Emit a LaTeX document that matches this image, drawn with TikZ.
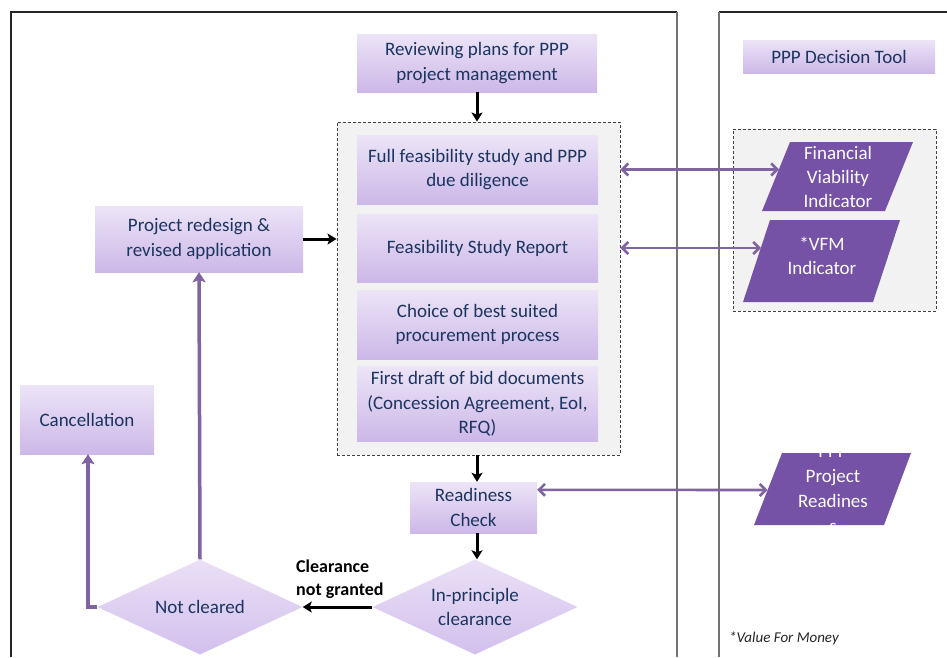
\documentclass[tikz,border=0pt]{standalone}
\usepackage{fontspec}
\setmainfont{Carlito}
\usetikzlibrary{arrows.meta,shapes.geometric}

\definecolor{navy}{RGB}{28,52,96}
\definecolor{lavtop}{RGB}{236,228,247}
\definecolor{lavbot}{RGB}{204,184,232}
\definecolor{diatop}{RGB}{234,224,246}
\definecolor{diabot}{RGB}{210,192,237}
\definecolor{plum}{RGB}{117,82,166}
\definecolor{linkpurple}{RGB}{128,100,162}
\definecolor{groupfill}{RGB}{242,242,242}

\tikzset{
  boxtext/.style={font=\fontsize{19}{24.5}\selectfont, text=navy, align=center},
  stepbox/.style={boxtext, rectangle, inner sep=0pt,
    top color=lavtop, bottom color=lavbot, draw=none},
  decision/.style={diamond, inner sep=0pt,
    minimum width=205pt, minimum height=95pt,
    top color=diatop, bottom color=diabot, draw=none},
  groupbox/.style={rectangle, fill=groupfill, draw=black!75,
    line width=0.9pt, dash pattern=on 3pt off 2pt, inner sep=0pt},
  toolshape/.style={fill=plum},
  tooltext/.style={font=\fontsize{19}{24}\selectfont, text=white, align=center, inner sep=0pt},
  flow/.style={draw=black, line width=3pt, -{Stealth[length=9pt,width=11pt,inset=2pt]}},
  backflow/.style={draw=linkpurple, line width=3.5pt, -{Stealth[length=10pt,width=13pt,inset=2pt]}},
  toollink/.style={draw=linkpurple, line width=2.6pt,
    {Straight Barb[length=6pt,width=12pt]}-{Straight Barb[length=6pt,width=12pt]}},
  framedark/.style={draw=black!85, line width=2.5pt},
  framelight/.style={draw=black!55, line width=2.5pt},
}

\begin{document}
\begin{tikzpicture}[x=1pt,y=-1pt]
\useasboundingbox (0,0) rectangle (947,657);
\fill[white] (0,0) rectangle (947,657);

% panel frames
\draw[framedark] (11,657) -- (11,12) -- (677,12);
\draw[framelight] (677,12) -- (677,657);
\draw[framedark] (719,12) -- (947,12);
\draw[framelight] (719,12) -- (719,657);

% process column
\node[stepbox, minimum width=240pt, minimum height=58pt] (rev) at (477,63)
  {Reviewing plans for PPP\\project management};

\node[groupbox, minimum width=283pt, minimum height=333pt] (grp) at (478.5,288.5) {};

\node[stepbox, minimum width=241pt, minimum height=69pt] (fs) at (477.5,169.5)
  {Full feasibility study and PPP\\due diligence};
\node[stepbox, minimum width=241pt, minimum height=68pt] (fsr) at (477.5,248)
  {Feasibility Study Report};
\node[stepbox, minimum width=241pt, minimum height=69pt] (cho) at (477.5,324.5)
  {Choice of best suited\\procurement process};
\node[stepbox, minimum width=241pt, minimum height=75pt] (fd) at (477.5,404)
  {First draft of bid documents\\(Concession Agreement, EoI,\\RFQ)};

\node[stepbox, minimum width=127pt, minimum height=51pt] (red) at (473.5,507.5)
  {Readiness\\Check};

\node[decision, label={[boxtext]center:In-principle\\clearance}] (ipc) at (475,607) {};
\node[decision, label={[boxtext]center:Not cleared}] (nc) at (200,607) {};

\node[stepbox, minimum width=208pt, minimum height=66pt] (prj) at (199,239)
  {Project redesign \&\\revised application};
\node[stepbox, minimum width=134pt, minimum height=69pt] (can) at (87,419.5)
  {Cancellation};

\node[font=\bfseries\fontsize{18}{23}\selectfont, align=left, anchor=west, inner sep=0pt]
  (cng) at (296,579) {Clearance\\not granted};

% decision tool panel
\node[stepbox, minimum width=192pt, minimum height=33pt] (pdt) at (839,56.5)
  {PPP Decision Tool};

\node[groupbox, minimum width=203pt, minimum height=182pt] (tools) at (834.5,220) {};

\fill[toolshape] (790,142) -- (913,142) -- (885,211) -- (762,211) -- cycle;
\node[tooltext] (fvi) at (838,177) {Financial\\Viability\\Indicator};
\coordinate (fviL) at (779,169.5);

\fill[toolshape] (770,220) -- (900,220) -- (873,302) -- (743,302) -- cycle;
\node[tooltext] (vfm) at (822,256) {*VFM\\Indicator};
\coordinate (vfmL) at (761,248);

\fill[toolshape] (782,453) -- (911,453) -- (884,525) -- (754,525) -- cycle;
\node[tooltext, font=\fontsize{19}{25}\selectfont] (prd) at (833,489)
  {PPP\\Project\\Readines\\s};
\coordinate (prdL) at (767.5,490);

\node[font=\itshape\fontsize{15}{17}\selectfont, text=black!85, anchor=west, inner sep=0pt]
  (fn) at (729,638) {*Value For Money};

% main flow
\draw[flow] (rev.south) -- (rev.south |- grp.north);
\draw[flow] (grp.south -| rev.south) -- (red.north -| rev.south);
\draw[flow] (red.south -| rev.south) -- (ipc.north -| rev.south);
\draw[flow] (ipc.west) -- (nc.east);
\draw[flow] (prj.east) -- (prj.east -| grp.west);

% rework and cancellation
\draw[backflow] (nc.north) -- (prj.south);
\draw[backflow] (nc.west) -- (88,607) -- (can.south -| 88,0);

% links to the decision tool
\draw[toollink] (fs.east -| grp.east) -- (fviL);
\draw[toollink] (fsr.east -| grp.east) -- (vfmL);
\draw[toollink] ([yshift=-8pt]red.north east) -- (prdL);
\end{tikzpicture}
\end{document}
